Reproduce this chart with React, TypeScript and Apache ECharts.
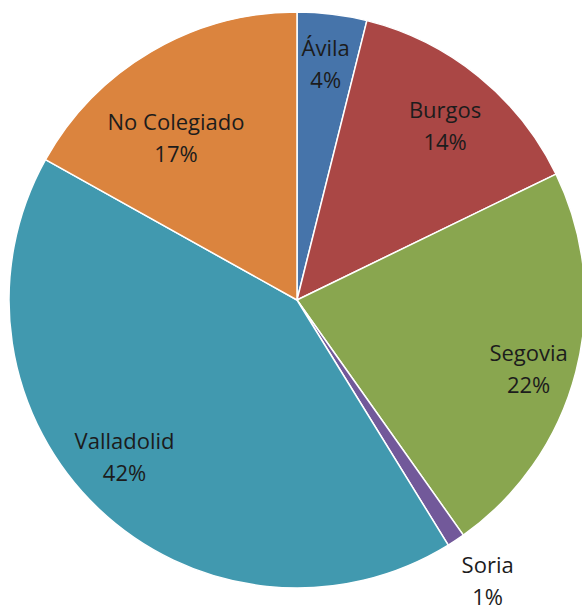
import React, { useEffect, useRef } from "react";
import * as echarts from "echarts";

const categories = ["Ávila", "Burgos", "Segovia", "Soria", "Valladolid", "No Colegiado"];
const values = [3.9, 13.9, 22.4, 1.0, 41.9, 16.9];
const colors = ["#4674AA", "#AA4745", "#89A64F", "#72599A", "#4199AF", "#DB843E"];

// small label nudges (Excel "best fit" placement)
const labelNudge: Record<string, [number, number]> = {
  "Ávila": [0, -4],
  Burgos: [0, 7],
  Segovia: [4, 10],
  Soria: [8, 11],
  Valladolid: [-10, -14],
  "No Colegiado": [-2, 40],
};

export default function App() {
  const ref = useRef<HTMLDivElement>(null);
  useEffect(() => {
    if (!ref.current) return;
    const chart = echarts.init(ref.current, undefined, { renderer: "svg" });
    const R = 288;
    const center = [297, 300];
    const total = values.reduce((a, b) => a + b, 0);
    const mainData = categories.map((c, i) => ({
      name: c,
      value: values[i],
      itemStyle: { color: colors[i] },
    }));
    const labelData = categories.map((c, i) => {
      const item: any = { name: c, value: values[i] };
      if (c === "Soria") {
        item.label = { position: "outside" };
        item.labelLine = { show: false, length: 34, length2: 0 };
      }
      return item;
    });
    chart.setOption({
      animation: false,
      backgroundColor: "#ffffff",
      series: [
        {
          type: "pie",
          center,
          radius: [0, R],
          startAngle: 90,
          clockwise: true,
          silent: true,
          data: mainData,
          label: { show: false },
          labelLine: { show: false },
          itemStyle: { borderColor: "#ffffff", borderWidth: 1.5 },
        },
        {
          type: "pie",
          center,
          radius: [176, R],
          startAngle: 90,
          clockwise: true,
          silent: true,
          data: labelData,
          itemStyle: { color: "rgba(0,0,0,0)", borderWidth: 0 },
          label: {
            show: true,
            position: "inside",
            fontFamily: "Open Sans",
            fontSize: 22,
            lineHeight: 32,
            color: "#1c1c1c",
            formatter: (p: any) => `${p.name}\n${Math.round((p.value / total) * 100)}%`,
          },
          labelLine: { show: false },
          labelLayout: (params: any) => {
            const name = categories[params.dataIndex];
            const n = labelNudge[name] || [0, 0];
            const out: any = { dx: n[0], dy: n[1] };
            if (name === "Soria") out.align = "center";
            return out;
          },
        },
      ],
    });
    return () => chart.dispose();
  }, []);
  return (
    <div
      ref={ref}
      style={{ position: "absolute", left: 0, top: 0, width: 582, height: 610 }}
    />
  );
}
